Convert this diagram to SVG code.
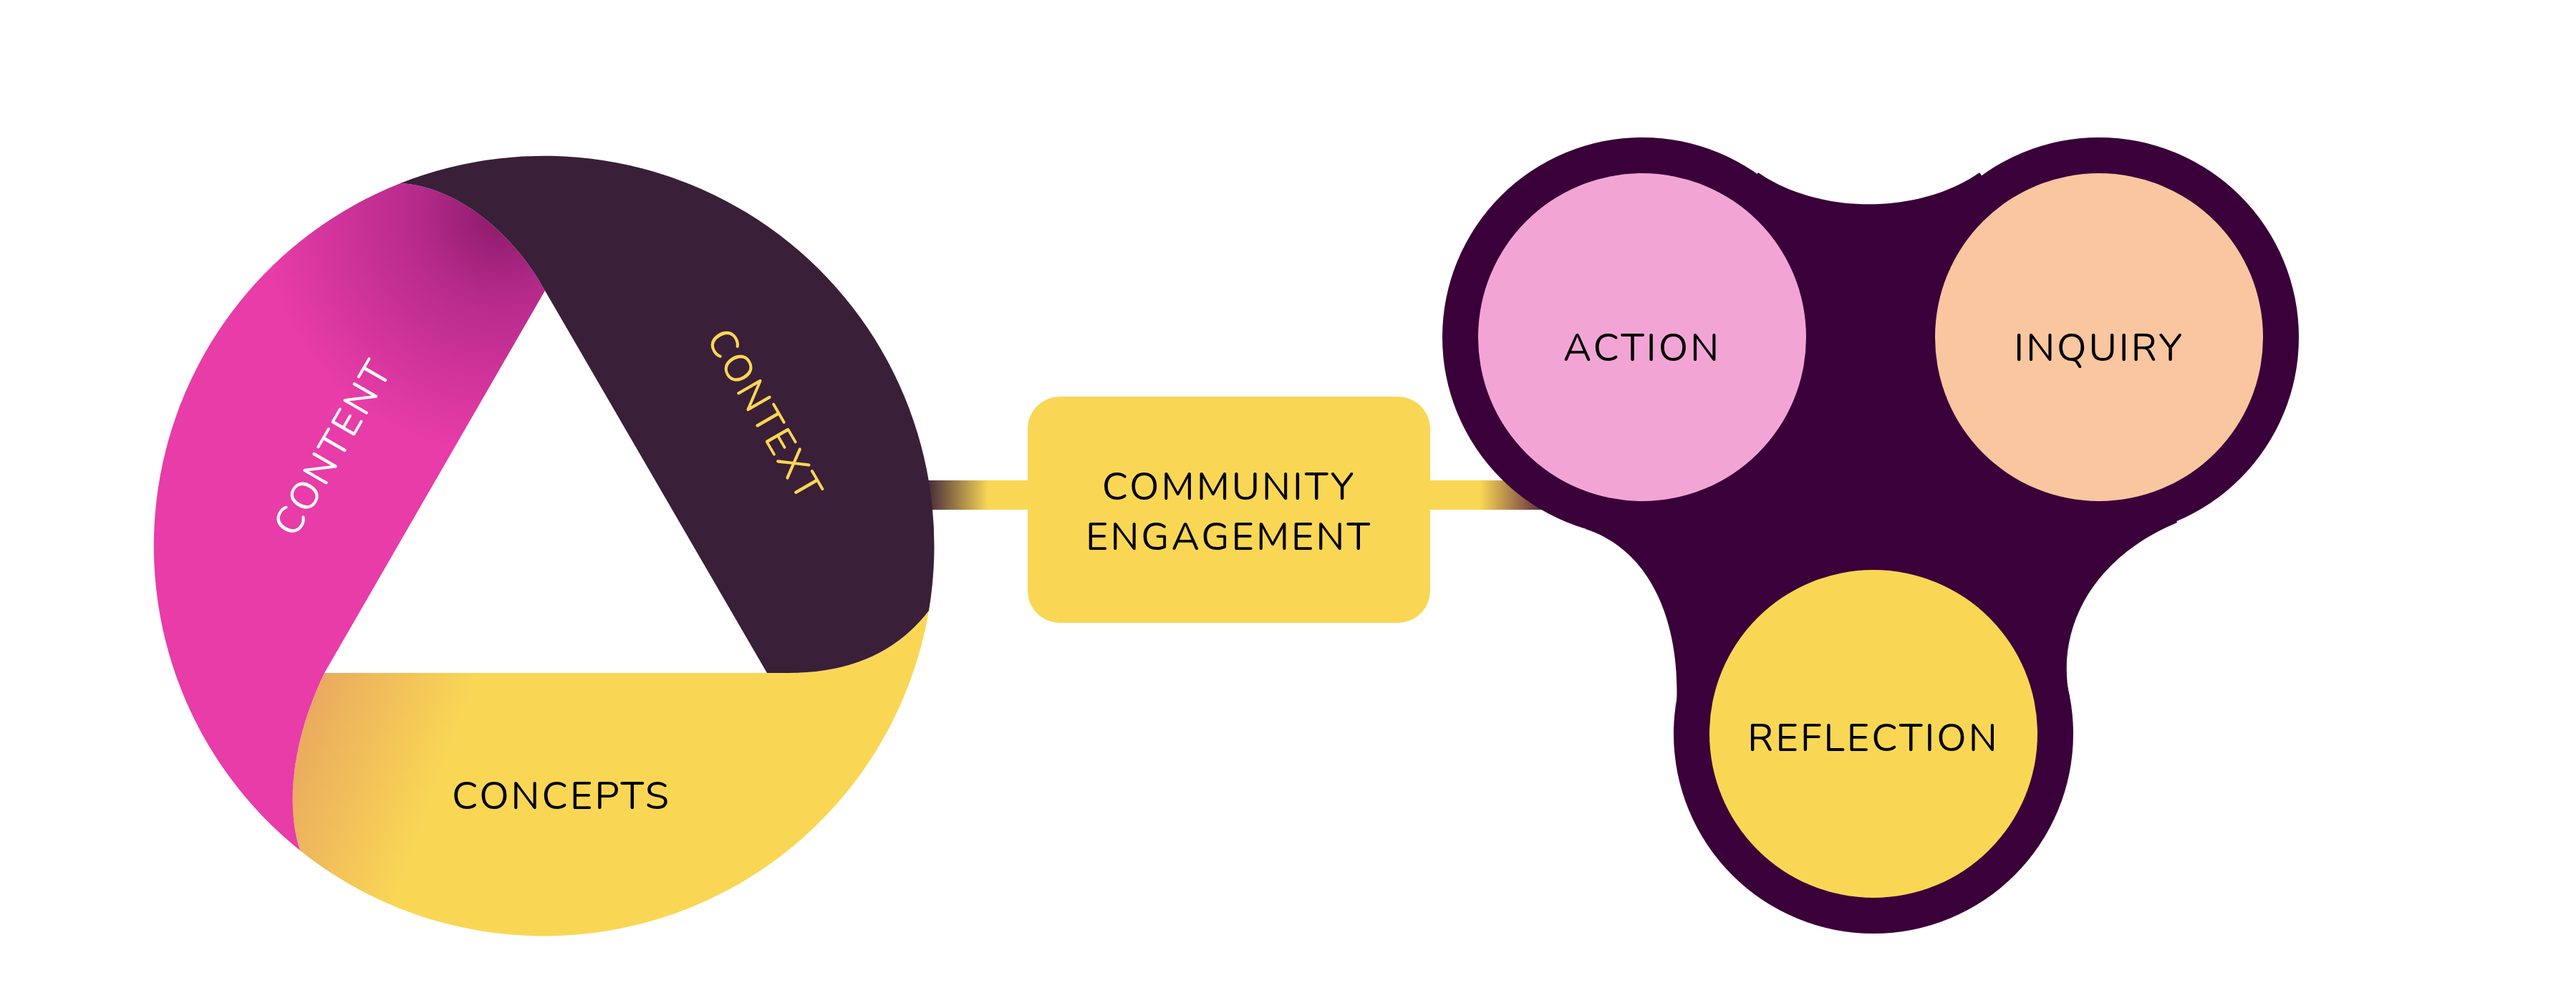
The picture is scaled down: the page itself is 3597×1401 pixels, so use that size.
<svg xmlns="http://www.w3.org/2000/svg" width="3597" height="1401" viewBox="0 0 3597 1401">
<defs>
<style>
.t{font-family:"Nunito","Noto Sans","Liberation Sans",sans-serif;font-size:54px;letter-spacing:3px;text-anchor:middle;dominant-baseline:central}
</style>
<linearGradient id="gl" x1="0" y1="0" x2="1" y2="0"><stop offset="0" stop-color="#3a1f38"/><stop offset="0.6" stop-color="#f9d755"/><stop offset="1" stop-color="#f9d755"/></linearGradient>
<linearGradient id="gr" x1="0" y1="0" x2="1" y2="0"><stop offset="0" stop-color="#f9d755"/><stop offset="0.4" stop-color="#f9d755"/><stop offset="1" stop-color="#3a0039"/></linearGradient>
<linearGradient id="gy" x1="400" y1="1000" x2="620" y2="1080" gradientUnits="userSpaceOnUse"><stop offset="0" stop-color="#e8a560"/><stop offset="1" stop-color="#f9d755"/></linearGradient>
<radialGradient id="gp" cx="700" cy="300" r="330" gradientUnits="userSpaceOnUse"><stop offset="0" stop-color="#8a1a6a"/><stop offset="0.35" stop-color="#b52a8a"/><stop offset="1" stop-color="#e83ca8"/></radialGradient>
</defs>
<g id="connectors">
<rect x="1290" y="671" width="150" height="41" fill="url(#gl)"/>
<rect x="1995" y="671" width="180" height="41" fill="url(#gr)"/>
</g>
<g id="concepts">
<path d="M1297,853 A545,545 0 0 1 419,1188 C400,1130 405,1040 453,940 L1101,940 Q1230,940 1297,853 Z" fill="url(#gy)"/>
<text class="t" x="784" y="1112" fill="#000">CONCEPTS</text>
</g>
<g id="content">
<path d="M419,1188 A545,545 0 0 1 559,256 C640,260 720,330 761,406 L453,940 C405,1040 400,1130 419,1188 Z" fill="url(#gp)"/>
<text class="t" x="465" y="625" fill="#fff" transform="rotate(-60 465 625)">CONTENT</text>
</g>
<g id="context">
<path d="M559,256 A545,545 0 0 1 1297,853 Q1230,940 1101,940 L1071,940 L761,406 C720,330 640,260 559,256 Z" fill="#3a1f38"/>
<text class="t" x="1068" y="580" fill="#f9d755" transform="rotate(60 1068 580)">CONTEXT</text>
</g>
<g id="community">
<rect x="1435" y="554" width="562" height="316" rx="45" fill="#f9d755"/>
<text class="t" x="1716" y="680" fill="#000">COMMUNITY</text>
<text class="t" x="1716" y="750" fill="#000">ENGAGEMENT</text>
</g>
<g id="cycle">
<path d="M2455,241 C2540,300 2680,300 2764,241 L2931,471 L3040,730 C2920,780 2870,880 2890,975 L2616,1025 L2340,1000 C2350,880 2310,770 2214,739 L2293,471 Z" fill="#3a0039"/>
<circle cx="2293" cy="471" r="279" fill="#3a0039"/>
<circle cx="2931" cy="471" r="279" fill="#3a0039"/>
<circle cx="2616" cy="1025" r="279" fill="#3a0039"/>
</g>
<g id="action"><circle cx="2293" cy="471" r="229" fill="#f2a5d5"/><text class="t" x="2293" y="486" fill="#000">ACTION</text></g>
<g id="inquiry"><circle cx="2931" cy="471" r="229" fill="#f9c6a0"/><text class="t" x="2931" y="486" fill="#000">INQUIRY</text></g>
<g id="reflection"><circle cx="2616" cy="1025" r="229" fill="#f9d755"/><text class="t" x="2616" y="1031" fill="#000">REFLECTION</text></g>
</svg>
